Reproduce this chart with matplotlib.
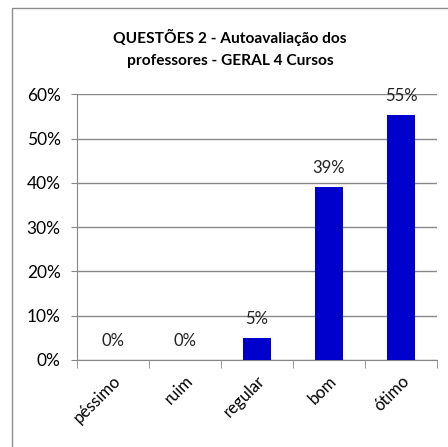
import numpy as np
import matplotlib.pyplot as plt
from matplotlib.patches import Rectangle
from matplotlib.ticker import FuncFormatter

categories = ['péssimo', 'ruim', 'regular', 'bom', 'ótimo']
values = [0.0, 0.0, 0.05, 0.39, 0.553]
labels = ['0%', '0%', '5%', '39%', '55%']

plt.rcParams['font.family'] = ['Lato', 'DejaVu Sans']

fig = plt.figure(figsize=(4.48, 4.47), dpi=100)
fig.patches.append(Rectangle((12 / 448, -0.1), 1.2, 1 - 8 / 447 + 0.1,
                             transform=fig.transFigure, fill=False,
                             edgecolor='#8c8c8c', linewidth=1))

ax = fig.add_axes([77 / 448, 1 - 360 / 447, 360 / 448, (360 - 94.3) / 447])
x = np.arange(len(categories))
ax.bar(x, values, width=0.4, color='#0000CC', zorder=3)

for xi, v, lab in zip(x, values, labels):
    ax.annotate(lab, (xi, v), xytext=(0, 8), textcoords='offset points',
                ha='center', va='bottom', fontsize=12, color='#222222')

ax.set_xlim(-0.5, len(categories) - 0.5)
ax.set_ylim(0, 0.6)
ax.set_yticks(np.arange(0, 0.61, 0.1))
ax.yaxis.set_major_formatter(FuncFormatter(lambda v, p: f'{v * 100:.0f}%'))
ax.grid(axis='y', color='#888888', linewidth=1, zorder=0)

ax.set_xticks(x)
ax.set_xticklabels(categories, rotation=45, ha='right', rotation_mode='anchor',
                   fontsize=12)
ax.tick_params(axis='x', length=0, pad=9)
ax.set_xticks(np.arange(-0.5, len(categories)), minor=True)
ax.tick_params(axis='x', which='minor', length=5.5, color='#888888')
ax.tick_params(axis='y', length=4.3, color='#888888', labelsize=12.5, pad=7.5)

for side in ['top', 'right']:
    ax.spines[side].set_visible(False)
ax.spines['left'].set_color('#888888')
ax.spines['bottom'].set_color('#888888')

fig.text(230 / 448, 1 - 48.5 / 447,
         'QUESTÕES 2 - Autoavaliação dos\nprofessores - GERAL 4 Cursos',
         ha='center', va='center', fontsize=11.2, fontweight='bold',
         linespacing=1.65)

fig.savefig('out.png', dpi=100)
